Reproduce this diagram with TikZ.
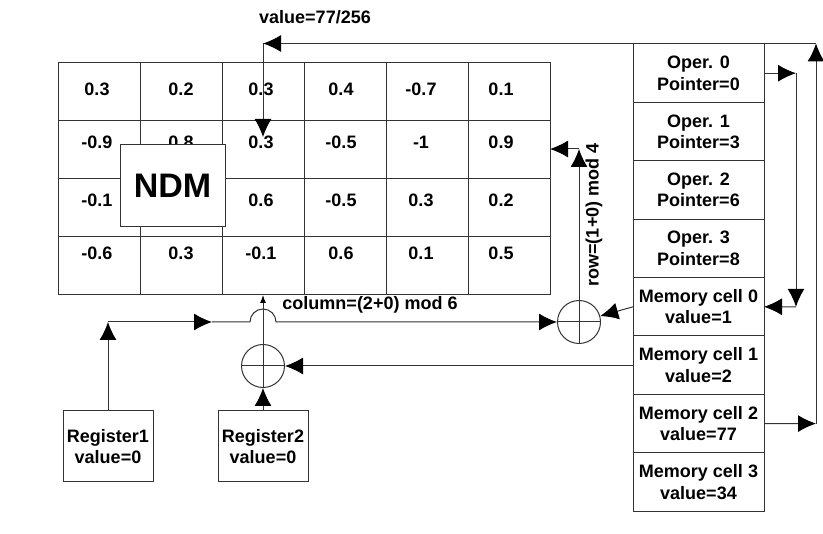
\documentclass[tikz,border=0pt]{standalone}
\usepackage{fontspec}
\setmainfont{Liberation Sans}
\usetikzlibrary{positioning,arrows.meta}

\tikzset{
  every node/.style={font=\fontsize{18}{21.5}\selectfont\bfseries, text=black},
  val/.style={inner sep=0pt},
  cell/.style={draw, minimum width=131pt, minimum height=58.4pt, align=center, inner sep=0pt, outer sep=0pt},
  reg/.style={draw, minimum width=90pt, minimum height=71pt, align=center, inner sep=0pt},
  xorsum/.style={draw, circle, minimum size=43pt, inner sep=0pt},
  arr/.style={-{Latex[length=18pt,width=17pt,color=black]}},
  smallarr/.style={-{Latex[length=8pt,width=6pt,color=black]}},
}

\begin{document}
\begin{tikzpicture}[x=1pt, y=-1pt, line width=1pt, color=black!80]
\useasboundingbox (0,0) rectangle (823,534) ;

% the table
\draw (58,63) rectangle (550,295) ;
\draw (140,63) -- (140,295) ;
\draw (222,63) -- (222,295) ;
\draw (304,63) -- (304,295) ;
\draw (386,63) -- (386,295) ;
\draw (468,63) -- (468,295) ;
\draw (58,121) -- (550,121) ;
\draw (58,179) -- (550,179) ;
\draw (58,237) -- (550,237) ;

\draw (97,89)  node[val] (v11) {0.3} ;
\draw (181,89) node[val] (v12) {0.2} ;
\draw (261,89) node[val] (v13) {0.3} ;
\draw (341,89) node[val] (v14) {0.4} ;
\draw (421,89) node[val] (v15) {-0.7} ;
\draw (501,89) node[val] (v16) {0.1} ;

\draw (97,142)  node[val] (v21) {-0.9} ;
\draw (181,142) node[val] (v22) {0.8} ;
\draw (261,142) node[val] (v23) {0.3} ;
\draw (341,142) node[val] (v24) {-0.5} ;
\draw (421,142) node[val] (v25) {-1} ;
\draw (501,142) node[val] (v26) {0.9} ;

\draw (97,200)  node[val] (v31) {-0.1} ;
\draw (261,200) node[val] (v33) {0.6} ;
\draw (341,200) node[val] (v34) {-0.5} ;
\draw (421,200) node[val] (v35) {0.3} ;
\draw (501,200) node[val] (v36) {0.2} ;

\draw (97,253)  node[val] (v41) {-0.6} ;
\draw (181,253) node[val] (v42) {0.3} ;
\draw (261,253) node[val] (v43) {-0.1} ;
\draw (341,253) node[val] (v44) {0.6} ;
\draw (421,253) node[val] (v45) {0.1} ;
\draw (501,253) node[val] (v46) {0.5} ;

\node[draw, fill=white, minimum width=105pt, minimum height=82pt,
      font=\fontsize{34}{40}\selectfont\bfseries] (ndm) at (172.5,186) {NDM} ;

% operations and memory
\node[cell] (op0) at (698.5,73.2) {Oper. 0\\Pointer=0} ;
\node[cell, below=0pt of op0] (op1) {Oper. 1\\Pointer=3} ;
\node[cell, below=0pt of op1] (op2) {Oper. 2\\Pointer=6} ;
\node[cell, below=0pt of op2] (op3) {Oper. 3\\Pointer=8} ;
\node[cell, below=0pt of op3] (mc0) {Memory cell 0\\value=1} ;
\node[cell, below=0pt of mc0] (mc1) {Memory cell 1\\value=2} ;
\node[cell, below=0pt of mc1] (mc2) {Memory cell 2\\value=77} ;
\node[cell, below=0pt of mc2] (mc3) {Memory cell 3\\value=34} ;

\node[reg] (reg1) at (108,446.5) {Register1\\value=0} ;
\node[reg] (reg2) at (263,446.5) {Register2\\value=0} ;

\node[xorsum] (cl) at (263,366) {} ;
\node[xorsum] (cr) at (579,322) {} ;
\draw (cl.north) -- (cl.south) (cl.west) -- (cl.east) ;
\draw (cr.north) -- (cr.south) (cr.west) -- (cr.east) ;

\coordinate (colin) at (263,295) ;
\coordinate (r1up)  at (108,322) ;
\coordinate (r1mid) at (212,322) ;
\coordinate (hop)   at (250,322) ;
\coordinate (rowup) at (579,149) ;
\coordinate (rowin) at (550,149) ;
\coordinate (ina)   at (796,73.2) ;
\coordinate (inb)   at (796,306.8) ;
\coordinate (outa)  at (816,423.6) ;
\coordinate (outb)  at (816,43.5) ;
\coordinate (outc)  at (263,43.5) ;
\coordinate (outd)  at (263,137) ;

% column
\draw[arr] (reg2.north) -- (cl.south) ;
\draw[smallarr] (cl.north) -- (colin) ;
\draw[arr] (mc1.west |- cl) -- (cl.east) ;
\draw[arr] (reg1.north) -- (r1up) ;
\draw[arr] (r1up) -- (r1mid) ;
\draw[arr] (r1mid) -- (hop) arc[start angle=180, end angle=0, radius=13pt] -- (cr.west) ;
\draw (370,305) node (collab) {column=(2+0) mod 6} ;

% row
\draw[arr] (mc0.west) -- (cr) ;
\draw[arr] (cr.north) -- (rowup) ;
\draw[arr] (rowup) -- (rowin) ;
\draw (594,215) node[rotate=90] (rowlab) {row=(1+0) mod 4} ;

% pointer loop
\draw[arr] (op0.east) -- (ina) ;
\draw[arr] (ina) -- (inb) ;
\draw[arr] (inb) -- (mc0.east) ;

% value back to the table
\draw[arr] (mc2.east) -- (outa) ;
\draw[arr] (outa) -- (outb) ;
\draw[arr] (outb) -- (outc) ;
\draw[arr] (outc) -- (outd) ;
\draw (315,17) node (vallab) {value=77/256} ;
\end{tikzpicture}
\end{document}
